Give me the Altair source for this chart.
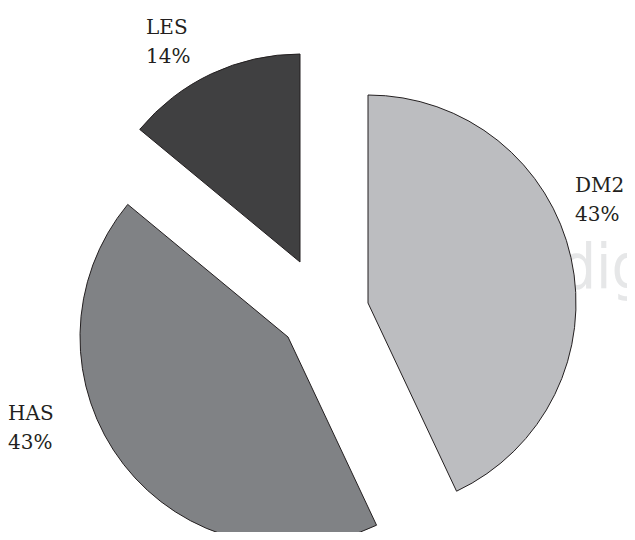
import altair as alt
import pandas as pd

categories = ["DM2", "HAS", "LES"]
values = [43, 43, 14]
colors = ["#bcbdc0", "#808285", "#404041"]
watermark = "medigraphic"

W, H = 619, 524
R = 208
# exploded slice centres and label anchors (plot-area pixels)
centers = {"DM2": (360, 295), "HAS": (280, 329), "LES": (292, 254)}
label_pos = {"DM2": (567, 184), "HAS": (0, 412), "LES": (138, 26)}

df = pd.DataFrame({"cat": categories, "value": values, "order": list(range(len(categories)))})

base = (
    alt.Chart(df)
    .transform_joinaggregate(total="sum(value)")
    .transform_window(cum="sum(value)", sort=[alt.SortField("order")], frame=[None, 0])
    .transform_calculate(
        start="2*PI*(datum.cum-datum.value)/datum.total",
        end="2*PI*datum.cum/datum.total",
        label="datum.cat + '\\n' + datum.value + '%'",
    )
)

wm = (
    alt.Chart(pd.DataFrame({"t": [watermark]}))
    .mark_text(
        align="left",
        baseline="alphabetic",
        font="Liberation Sans Narrow, DejaVu Sans Condensed, sans-serif",
        fontSize=62,
        color="#e6e7e8",
    )
    .encode(text="t:N", x=alt.value(464), y=alt.value(280))
)

layers = [wm]
for c, col in zip(categories, colors):
    cx, cy = centers[c]
    layers.append(
        base.transform_filter(alt.datum.cat == c)
        .mark_arc(radius=R, stroke="#231f20", strokeWidth=1, fill=col)
        .encode(
            theta=alt.Theta("start:Q", scale=None),
            theta2="end:Q",
            x=alt.value(cx),
            y=alt.value(cy),
        )
    )
for c in categories:
    lx, ly = label_pos[c]
    layers.append(
        base.transform_filter(alt.datum.cat == c)
        .mark_text(
            align="left",
            baseline="alphabetic",
            font="DejaVu Serif",
            fontSize=20,
            lineBreak="\n",
            lineHeight=29,
            color="#231f20",
        )
        .encode(text="label:N", x=alt.value(lx), y=alt.value(ly))
    )

chart = (
    alt.layer(*layers)
    .properties(width=W, height=H, padding=0, autosize="none")
    .configure_view(stroke=None)
)

chart.save("out.html", embed_options={"renderer": "svg", "actions": False})
